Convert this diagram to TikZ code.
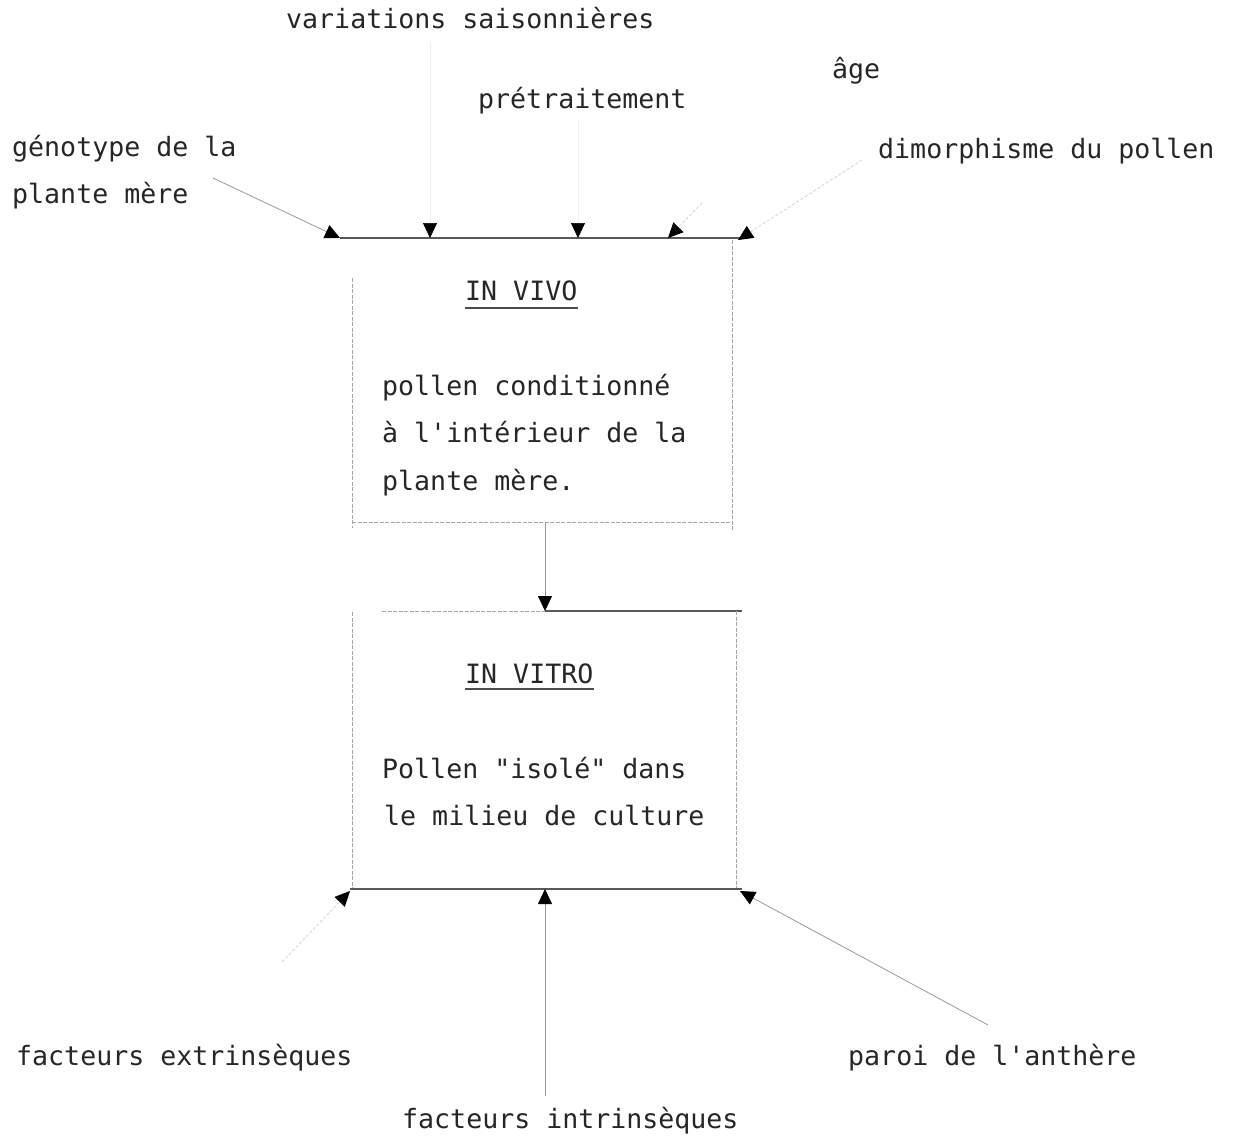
\documentclass[tikz,border=0pt]{standalone}
\usepackage{fontspec}
\setmonofont{DejaVu Sans Mono}
\usetikzlibrary{arrows.meta,calc}
\begin{document}
\begin{tikzpicture}[x=1pt,y=-1pt,
  lbl/.style={anchor=base west,inner sep=0pt,font=\ttfamily\fontsize{26.6}{32}\selectfont,text=black!85},
  edgeline/.style={draw=black!65,line width=1.2pt},
  side/.style={draw=black!35,line width=0.9pt,dash pattern=on 4pt off 1.5pt},
  faint/.style={draw=black!40,line width=0.8pt},
  dimline/.style={draw=black!18,line width=0.8pt,dash pattern=on 3pt off 2pt},
  veryfaint/.style={draw=black!6,line width=0.6pt},
  tip/.style={-{Triangle[length=15pt,width=14pt,color=black]}},
  uline/.style={draw=black!70,line width=1.4pt}
]
\useasboundingbox (0,0) rectangle (1236,1140);

% labels around the diagram
\node[lbl] (var)   at (286,29)   {variations saisonnières};
\node[lbl] (age)   at (832,78)   {âge};
\node[lbl] (pret)  at (478,108)  {prétraitement};
\node[lbl] (geno)  at (12,156)   {génotype de la};
\node[lbl] (geno2) at (12,203)   {plante mère};
\node[lbl] (dimo)  at (878,158)  {dimorphisme du pollen};
\node[lbl] (ext)   at (16,1065)  {facteurs extrinsèques};
\node[lbl] (paroi) at (848,1065) {paroi de l'anthère};
\node[lbl] (intr)  at (402,1128) {facteurs intrinsèques};

% IN VIVO box text
\node[lbl] (vivo)  at (465,300) {IN VIVO};
\draw[uline] ($(vivo.base west)+(0,8)$) -- ($(vivo.base east)+(0,8)$);
\node[lbl] (v1) at (382,395) {pollen conditionné};
\node[lbl] (v2) at (382,442) {à l'intérieur de la};
\node[lbl] (v3) at (382,490) {plante mère.};

% IN VITRO box text
\node[lbl] (vitro) at (465,683) {IN VITRO};
\draw[uline] ($(vitro.base west)+(0,6)$) -- ($(vitro.base east)+(0,6)$);
\node[lbl] (w1) at (382,778) {Pollen "isolé" dans};
\node[lbl] (w2) at (384,825) {le milieu de culture};

% attachment points on the box edges
\coordinate (t1) at (340,238);
\coordinate (t2) at (430,238);
\coordinate (t3) at (578,238);
\coordinate (t4) at (668,238);
\coordinate (t5) at (738,240);
\coordinate (tr) at (742,238);
\coordinate (b1s) at (545,522);
\coordinate (b2n) at (545,611);
\coordinate (e1) at (350,891);
\coordinate (e2) at (545,889);
\coordinate (e3) at (740,891);

% starting points of the incoming connectors
\coordinate (sgeno) at (213,178);
\coordinate (svar)  at (430,42);
\coordinate (spret) at (578,120);
\coordinate (sage)  at (702,203);
\coordinate (sdimo) at (862,160);
\coordinate (sext)  at (282,962);
\coordinate (sintr) at (545,1096);
\coordinate (sparoi) at (988,1025);

% IN VIVO box
\draw[edgeline] (t1) -- (tr);
\draw[side] (352,278) -- (352,528);
\draw[side] (732,240) -- (732,530);
\draw[side] (352,522) -- (732,522);

% IN VITRO box
\draw[side] (382,611) -- (545,611);
\draw[edgeline] (545,611) -- (742,611);
\draw[side] (352,612) -- (352,889);
\draw[side] (736,611) -- (736,889);
\draw[edgeline] (350,889) -- (742,889);

% from in vivo to in vitro
\draw[faint,tip] (b1s) -- (b2n);

% factors acting on the in vivo stage
\draw[faint,tip] (sgeno) -- (t1);
\draw[veryfaint,tip] (svar) -- (t2);
\draw[veryfaint,tip] (spret) -- (t3);
\draw[dimline,tip] (sage) -- (t4);
\draw[dimline,tip] (sdimo) -- (t5);

% factors acting on the in vitro stage
\draw[dimline,tip] (sext) -- (e1);
\draw[faint,tip] (sintr) -- (e2);
\draw[faint,tip] (sparoi) -- (e3);
\end{tikzpicture}
\end{document}
